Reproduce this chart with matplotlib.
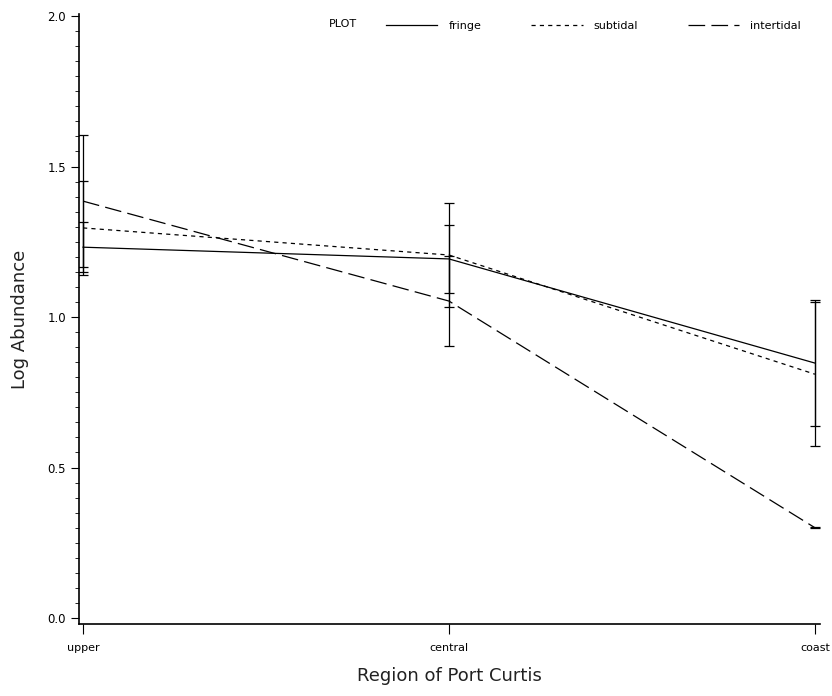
import matplotlib
matplotlib.use("Agg")
import matplotlib.pyplot as plt
from matplotlib.ticker import MultipleLocator

plt.rcParams['lines.scale_dashes'] = False
plt.rcParams['font.family'] = ['DejaVu Sans']

regions = ["upper", "central", "coast"]
series = ["fringe", "subtidal", "intertidal"]

fringe = [1.232, 1.193, 0.847]
fringe_err = [0.084, 0.112, 0.210]
subtidal = [1.296, 1.206, 0.810]
subtidal_err = [0.156, 0.172, 0.240]
intertidal = [1.385, 1.053, 0.300]
intertidal_err = [0.220, 0.150, 0.002]

values = [fringe, subtidal, intertidal]
errors = [fringe_err, subtidal_err, intertidal_err]
styles = ['-', (0, (3, 3)), (0, (12, 4.5))]

fig = plt.figure(figsize=(8.32, 6.96), dpi=100)
ax = fig.add_axes([0.095, 0.1034, 0.8906, 0.8766])

x = list(range(len(regions)))
for name, vals, errs, ls in zip(series, values, errors, styles):
    ax.plot(x, vals, color='black', lw=0.9, ls=ls, label=name)
    ax.errorbar(x, vals, yerr=errs, fmt='none', ecolor='black',
                elinewidth=0.9, capsize=3.5, capthick=0.9)

ax.set_xlim(-0.011, 2.014)
ax.set_ylim(-0.02, 2.007)
ax.set_xticks(x)
ax.set_xticklabels(regions, fontsize=8)
ax.yaxis.set_major_locator(MultipleLocator(0.5))
ax.yaxis.set_minor_locator(MultipleLocator(0.05))
ax.yaxis.set_major_formatter(matplotlib.ticker.FormatStrFormatter('%.1f'))
ax.tick_params(axis='y', which='major', length=6, labelsize=8.5, direction='out')
ax.tick_params(axis='y', which='minor', length=3, direction='out')
ax.tick_params(axis='x', length=7, pad=7, direction='out')

for side in ['top', 'right']:
    ax.spines[side].set_visible(False)
for side in ['left', 'bottom']:
    ax.spines[side].set_linewidth(1.2)

ax.set_xlabel("Region of Port Curtis", fontsize=13, labelpad=10, color='#222222')
ax.set_ylabel("Log Abundance", fontsize=13, labelpad=13, color='#222222')

leg = ax.legend(ncol=3, loc='upper right', bbox_to_anchor=(0.988, 1.005),
                frameon=False, fontsize=8, handlelength=4.6,
                handletextpad=1.0, columnspacing=4.5)
fig.text(0.395, 0.965, "PLOT", fontsize=8, ha='left', va='center')

fig.savefig("out.png", dpi=100)
